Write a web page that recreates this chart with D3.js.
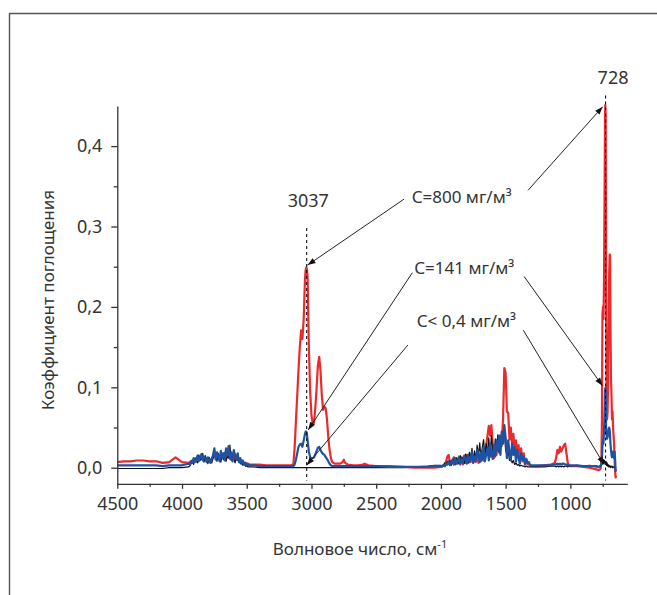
<!DOCTYPE html>
<html><head><meta charset="utf-8">
<script src="https://cdn.jsdelivr.net/npm/d3@7"></script>
<style>
html,body{margin:0;padding:0;background:#fff;}
svg{display:block;}
text{font-family:"Noto Sans","Open Sans",sans-serif;fill:#333;}
</style></head><body>
<svg id="chart" width="657" height="595"></svg>
<script>
// wavenumbers (cm^-1), shared by all three spectra
const wavenumbers = [
4500,4450,4400,4350,4300,4250,4200,4150,4100,4050,4000,3950,
3940,3930,3920,3910,3900,3890,3880,3870,3860,3850,3840,3830,3820,3810,3800,3790,3780,3770,3760,3750,3740,3730,3720,3710,3700,3690,3680,3670,3660,3650,3640,3630,3620,3610,3600,3590,3580,3570,3560,3550,3540,3530,3520,3510,3500,3490,3480,
3450,3400,3350,3300,3250,3200,3160,3140,
3130,3120,3110,3100,3090,3080,3070,3060,3050,3045,3040,3035,3030,3020,3010,3000,2990,2980,2970,2960,2950,2940,2930,2920,2910,2900,2890,2880,2870,2860,2850,2840,
2820,2780,2760,2750,2740,2720,2680,2640,2600,2590,2560,2500,2400,2300,2200,2100,2050,2000,
1990,1980,1970,1960,1950,1940,1930,1920,1910,1900,1890,1880,1870,1860,1850,1840,1830,1820,1810,1800,1790,1780,1770,1760,1750,1740,1730,1720,1710,1700,1690,1680,1670,1660,1650,1640,1630,1620,1610,1600,1590,1580,1570,1560,1550,1540,1530,1520,1510,1500,1490,1480,1470,1460,1450,1440,1430,1420,1410,1400,1390,1380,1370,1360,1350,1340,1330,1320,1310,1300,
1280,1250,1200,1150,1120,1110,1100,1090,1080,1070,1060,1050,1040,1030,1020,1010,1000,950,900,850,800,780,770,765,760,756,752,748,744,740,736,732,730,727,724,720,716,712,708,704,700,696,693,690,686,682,678,674,670,666,662,658,654,650,646
];

// C = 800 mg/m3 (red)
const red800 = [
0.007,0.008,0.008,0.009,0.009,0.008,0.008,0.006,0.007,0.013,0.007,0.006,
0.007,0.008,0.009,0.010,0.010,0.012,0.011,0.013,0.012,0.014,0.012,0.013,0.011,0.011,0.010,0.010,0.009,0.010,0.013,0.020,0.013,0.016,0.012,0.015,0.011,0.015,0.012,0.017,0.012,0.019,0.014,0.015,0.011,0.015,0.011,0.017,0.010,0.012,0.008,0.010,0.007,0.008,0.006,0.006,0.005,0.005,0.004,
0.004,0.004,0.003,0.003,0.003,0.003,0.003,0.004,
0.025,0.058,0.090,0.122,0.150,0.171,0.160,0.185,0.235,0.246,0.249,0.247,0.238,0.150,0.095,0.065,0.055,0.056,0.075,0.100,0.128,0.138,0.120,0.090,0.072,0.076,0.074,0.060,0.038,0.022,0.012,0.007,
0.005,0.005,0.007,0.010,0.006,0.004,0.003,0.003,0.004,0.005,0.003,0.002,0.002,0.001,0.000,0.000,0.000,0.001,
0.001,0.003,0.002,0.008,0.014,0.016,0.005,0.004,0.010,0.013,
0.004,0.012,0.005,0.014,0.006,0.013,0.004,0.012,0.006,0.016,
0.006,0.014,0.007,0.016,0.006,0.015,0.007,0.018,0.006,0.016,
0.008,0.020,0.009,0.022,0.028,0.040,0.052,0.040,0.053,0.030,
0.012,0.024,0.016,0.036,0.020,0.040,0.030,0.060,0.124,0.118,
0.070,0.068,0.035,0.050,0.028,0.042,0.022,0.034,0.016,0.028,
0.010,0.024,0.008,0.018,0.005,0.010,0.004,0.004,0.003,0.002,
0.002,0.002,0.003,0.004,0.006,0.012,0.022,0.018,0.026,0.020,0.024,0.028,0.030,0.018,0.006,0.003,0.002,
0.002,0.001,0.000,-0.002,-0.003,-0.002,0.000,0.008,
0.060,0.190,0.200,0.185,0.230,0.330,0.440,0.451,0.440,0.250,
0.080,0.060,0.070,0.110,0.180,0.240,0.265,0.265,0.180,0.110,
0.090,0.060,0.070,0.050,0.040,0.030,0.010,-0.005,-0.012,-0.010
];

// C = 141 mg/m3 (blue)
const blue141 = [
0.003,0.003,0.003,0.003,0.003,0.003,0.003,0.002,0.003,0.003,0.003,0.005,
0.004,0.008,0.006,0.012,0.007,0.010,0.015,0.008,0.013,0.017,
0.009,0.014,0.011,0.007,0.013,0.009,0.006,0.011,0.016,0.024,
0.010,0.019,0.014,0.008,0.021,0.012,0.018,0.009,0.024,0.015,
0.027,0.011,0.019,0.008,0.022,0.014,0.010,0.018,0.007,0.012,
0.005,0.009,0.004,0.006,0.003,0.004,0.003,
0.003,0.002,0.002,0.002,0.002,0.002,0.002,0.002,
0.004,0.010,0.018,0.026,0.029,0.030,0.026,0.034,0.042,
0.045,0.045,0.042,0.034,
0.020,0.013,0.012,0.012,0.013,0.017,0.021,0.025,0.026,0.022,0.019,0.017,0.016,0.013,0.011,0.008,0.005,0.003,0.002,
0.002,0.002,0.002,0.002,0.002,0.002,0.002,0.002,0.002,0.002,0.002,0.002,0.001,0.001,0.001,0.001,0.002,0.002,
0.002,0.003,0.002,0.005,0.004,0.008,0.003,0.006,0.010,0.004,
0.012,0.005,0.008,0.013,0.004,0.010,0.006,0.015,0.011,0.005,
0.016,0.007,0.012,0.020,0.006,0.014,0.009,0.022,0.017,0.007,
0.019,0.010,0.026,0.008,0.016,0.024,0.009,0.030,0.018,0.011,
0.028,0.014,0.034,0.022,0.040,0.016,0.045,0.030,0.053,0.038,
0.012,0.034,0.020,0.009,0.030,0.016,0.026,0.008,0.022,0.012,
0.005,0.018,0.010,0.014,0.004,0.011,0.006,0.007,0.003,0.003,
0.003,0.003,0.003,0.003,0.004,0.004,0.005,0.004,0.005,0.004,0.005,0.005,0.004,0.004,0.003,0.003,0.003,
0.003,0.002,0.002,0.002,0.001,0.002,0.003,0.004,
0.010,0.028,0.035,0.030,0.045,0.070,0.095,0.099,0.090,0.050,
0.040,0.036,0.038,0.042,0.048,0.050,0.047,0.040,0.030,0.022,
0.016,0.013,0.018,0.020,0.015,0.012,0.020,0.010,-0.004,-0.002
];

// C < 0.4 mg/m3 (black)
const black04 = [
-0.001,-0.001,-0.001,-0.001,-0.001,-0.001,-0.001,-0.001,0.000,0.000,0.000,0.001,
0.002,0.005,0.009,0.004,0.012,0.008,0.006,0.016,0.009,0.011,
0.018,0.007,0.015,0.010,0.005,0.013,0.009,0.006,0.012,0.019,
0.015,0.008,0.018,0.011,0.007,0.016,0.010,0.019,0.008,0.014,
0.012,0.028,0.009,0.016,0.011,0.006,0.015,0.009,0.011,0.005,
0.008,0.003,0.005,0.002,0.002,0.001,0.001,
0.001,0.000,0.000,0.000,0.000,0.000,0.000,0.000,
0,0,0,0,0,0,0,0,0,
0,0,0,0,
0,0,0,0,0,0,0,0,0,0,0,0,0,0,0,0,0,0,0,
0,0,0,0,0,0,0,0,0,0,0,0,0,0,0.001,0.002,0.003,0.003,
0.002,0.004,0.006,0.003,0.008,0.005,0.009,0.003,0.007,0.011,
0.004,0.012,0.008,0.005,0.015,0.007,0.013,0.005,0.017,0.009,
0.006,0.019,0.012,0.024,0.008,0.021,0.010,0.028,0.014,0.031,
0.011,0.026,0.035,0.012,0.030,0.018,0.037,0.013,0.040,0.022,
0.015,0.036,0.024,0.041,0.018,0.035,0.026,0.039,0.043,0.022,
0.016,0.020,0.009,0.013,0.006,0.009,0.004,0.006,0.003,0.004,
0.002,0.003,0.002,0.002,0.001,0.002,0.001,0.001,0.001,0.001,
0.001,0.001,0.001,0.002,0.002,0.001,0.002,0.001,0.002,0.001,0.002,0.001,0.002,0.002,0.001,0.002,0.002,
0.003,0.002,0.003,0.001,0.001,0.002,0.003,0.005,
0.004,0.008,0.005,0.010,0.006,0.009,0.005,0.007,0.004,0.008,
0.003,0.006,0.002,0.004,0.001,0.003,0.001,0.002,0.000,0.002,
0.001,0.002,0.000,0.001,0.001,0.000,0.001,0.000,0.000,0.000
];

const xMajorTicks = [4500,4000,3500,3000,2500,2000,1500,1000];
const xMinorTicks = [4250,3750,3250,2750,2250,1750,1250,750];
const yMajorTicks = [0,0.1,0.2,0.3,0.4];
const yTickLabels = ["0,0","0,1","0,2","0,3","0,4"];
const yMinorTicks = [0.05,0.15,0.25,0.35];
const xTitle = "Волновое число, см";
const xTitleSup = "-1";
const yTitle = "Коэффициент поглощения";

// peak markers: wavenumber, label, top of dashed line (absorbance)
const peakWn = [3037, 728];
const peakLabels = ["3037", "728"];
const peakLabelAbs = [0.324, 0.4775];
const peakLabelWn = [3025, 670];
const peakLineTop = [0.298, 0.463];

// concentration labels (anchor in data units: start wavenumber, baseline absorbance)
const concLabels = ["С=800 мг/м³", "С=141 мг/м³", "С< 0,4 мг/м³"];
const concLabelWn = [2226, 2206, 2187];
const concLabelAbs = [0.329, 0.241, 0.1756];

// arrows [fromWn, fromAbs, toWn, toAbs]
const arrows = [
  [2285, 0.334, 3030, 0.252],
  [1327, 0.345, 750, 0.449],
  [2221, 0.2425, 3025, 0.047],
  [1358, 0.238, 752, 0.102],
  [2255, 0.1526, 3037, 0.003],
  [1363, 0.171, 740, 0.004]
];

if (red800.length !== wavenumbers.length || blue141.length !== wavenumbers.length || black04.length !== wavenumbers.length) {
  throw new Error("length mismatch " + wavenumbers.length + " " + red800.length + " " + blue141.length + " " + black04.length);
}

const svg = d3.select("#chart");
const x = d3.scaleLinear().domain([4500, 560]).range([117.3, 627.3]);
const y = d3.scaleLinear().domain([-0.02, 0.45]).range([483.8, 105.9]);

// frame
svg.append("path").attr("d", "M9.5,595 L9.5,13.5 L657,13.5").attr("fill","none").attr("stroke","#555").attr("stroke-width",1.4);

// defs arrow
svg.append("defs").append("marker")
  .attr("id","ah").attr("viewBox","0 -5 10 10").attr("refX",10).attr("refY",0)
  .attr("markerUnits","userSpaceOnUse").attr("markerWidth",10).attr("markerHeight",8).attr("orient","auto")
  .append("path").attr("d","M0,-3.6L10,0L0,3.6Z").attr("fill","#111");

// spectra
const line = (vals) => d3.line().x((d,i)=>x(wavenumbers[i])).y(d=>y(d))(vals);
const series = [
  {vals: red800, color: "#ea2a2d", w: 2.2},
  {vals: black04, color: "#111111", w: 1.2},
  {vals: blue141, color: "#1f52a3", w: 2.2}
];
series.forEach(s => {
  svg.append("path").attr("d", line(s.vals)).attr("fill","none")
    .attr("stroke", s.color).attr("stroke-width", s.w).attr("stroke-linejoin","round");
});

// axes
const axisColor = "#333";
const gx = svg.append("g").attr("transform", `translate(0,${y(-0.02)})`)
  .call(d3.axisBottom(x).tickValues(xMajorTicks).tickSize(5).tickSizeOuter(0).tickPadding(8).tickFormat(d3.format("d")));
const gxm = svg.append("g").attr("transform", `translate(0,${y(-0.02)})`)
  .call(d3.axisBottom(x).tickValues(xMinorTicks).tickSize(3).tickSizeOuter(0).tickFormat(""));
gxm.select(".domain").remove();
const gy = svg.append("g").attr("transform", `translate(${x(4500)},0)`)
  .call(d3.axisLeft(y).tickValues(yMajorTicks).tickSize(6).tickSizeOuter(0).tickPadding(9).tickFormat((d,i)=>yTickLabels[i]));
const gym = svg.append("g").attr("transform", `translate(${x(4500)},0)`)
  .call(d3.axisLeft(y).tickValues(yMinorTicks).tickSize(3.5).tickSizeOuter(0).tickFormat(""));
gym.select(".domain").remove();
[gx,gxm,gy,gym].forEach(g => {
  g.selectAll("path,line").attr("stroke", axisColor).attr("stroke-width", 1.3);
  g.selectAll("text").attr("font-family","'Noto Sans',sans-serif").attr("font-size",18).attr("fill","#333");
});

// titles
svg.append("text").attr("x", 360).attr("y", 555).attr("text-anchor","middle").attr("font-size",17)
  .text(xTitle).append("tspan").attr("font-size",11).attr("dy",-7).text(xTitleSup);
svg.append("text").attr("transform","translate(54,300) rotate(-90)").attr("text-anchor","middle")
  .attr("font-size",17).text(yTitle);

// peak dashed lines & labels
peakWn.forEach((wn,i) => {
  svg.append("line").attr("x1",x(wn)).attr("x2",x(wn)).attr("y1",y(peakLineTop[i])).attr("y2",y(-0.016))
    .attr("stroke","#111").attr("stroke-width",1.1).attr("stroke-dasharray","3,3");
  svg.append("text").attr("x",x(peakLabelWn[i])).attr("y",y(peakLabelAbs[i])).attr("text-anchor","middle")
    .attr("font-size",18).text(peakLabels[i]);
});

// arrows
arrows.forEach(a => {
  svg.append("line").attr("x1",x(a[0])).attr("y1",y(a[1])).attr("x2",x(a[2])).attr("y2",y(a[3]))
    .attr("stroke","#222").attr("stroke-width",1).attr("marker-end","url(#ah)");
});

// concentration labels
concLabels.forEach((t,i) => {
  svg.append("text").attr("x",x(concLabelWn[i])).attr("y",y(concLabelAbs[i])).attr("font-size",17).text(t);
});
</script>
</body></html>
